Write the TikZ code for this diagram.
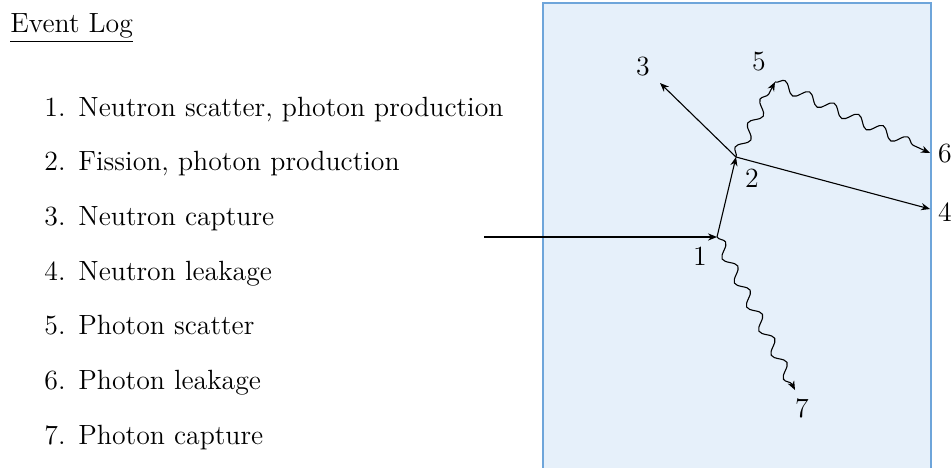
\documentclass[tikz,border=0pt]{standalone}
\usetikzlibrary{arrows.meta,decorations.pathmorphing}
\definecolor{boxfill}{RGB}{230,240,250}
\definecolor{boxline}{RGB}{110,165,218}
\begin{document}
\begin{tikzpicture}[x=0.5pt,y=-0.5pt,
  font=\fontsize{13.9}{16}\selectfont,
  track/.style={draw=black, line width=0.55pt, -{Stealth[length=4.5pt,width=3.6pt]}},
  photon/.style={draw=black, line width=0.55pt, -{Stealth[length=4.5pt,width=3.6pt]},
     decorate, decoration={snake, amplitude=2.7pt, segment length=13.5pt, post length=3pt}},
  lbl/.style={anchor=center, inner sep=0pt},
  num/.style={anchor=base east, inner sep=0pt},
  itemtxt/.style={anchor=base west, inner sep=0pt}]
\useasboundingbox (0,0) rectangle (951,467);
% region
\draw[fill=boxfill, draw=boxline, line width=1pt] (543,3) rectangle (931,480);
% title
\node[anchor=base west, inner sep=0pt] (title) at (10,32.5) {\underline{Event Log}};
% list
\foreach \i/\t [evaluate=\i as \yy using 116+54.7*(\i-1)] in
  {1/{Neutron scatter, photon production},
   2/{Fission, photon production},
   3/{Neutron capture},
   4/{Neutron leakage},
   5/{Photon scatter},
   6/{Photon leakage},
   7/{Photon capture}} {
  \node[num] (n\i) at (66,\yy) {\i.};
  \node[itemtxt] (t\i) at (78,\yy) {\t};
}
% points
\coordinate (src) at (484,237);
\coordinate (p1) at (717,237);
\coordinate (p2) at (736,157);
\coordinate (p3) at (660,83);
\coordinate (p4) at (930,209);
\coordinate (p5) at (775,82);
\coordinate (p6) at (930,153);
\coordinate (p7) at (795,390);
% labels
\node[lbl] (l1) at (700,256) {1};
\node[lbl] (l2) at (752,178) {2};
\node[lbl] (l3) at (643,67) {3};
\node[lbl] (l4) at (945,212) {4};
\node[lbl] (l5) at (759,62) {5};
\node[lbl] (l6) at (945,154) {6};
\node[lbl] (l7) at (802,408) {7};
% tracks
\draw[track] (src) -- (p1);
\draw[track] (p1) -- (p2);
\draw[track] (p2) -- (p3);
\draw[track] (p2) -- (p4);
\draw[photon] (p2) -- (p5);
\draw[photon] (p5) -- (p6);
\draw[photon] (p1) -- (p7);
\end{tikzpicture}
\end{document}
